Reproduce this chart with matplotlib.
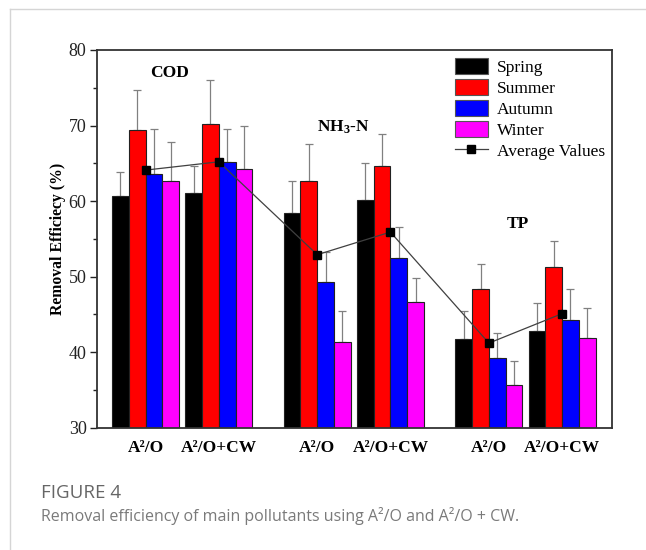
import numpy as np
import matplotlib
matplotlib.use("Agg")
import matplotlib.pyplot as plt
from matplotlib.lines import Line2D
from matplotlib.patches import Patch

# ---------------- data ----------------
seasons = ["Spring", "Summer", "Autumn", "Winter"]
colors = ["#000000", "#ff0000", "#0000ff", "#ff00ff"]
process_labels = ["A²/O", "A²/O+CW", "A²/O", "A²/O+CW", "A²/O", "A²/O+CW"]
pollutants = ["COD", "NH$_3$-N", "TP"]

spring = [60.7, 61.1, 58.4, 60.2, 41.8, 42.8]
summer = [69.4, 70.2, 62.7, 64.6, 48.4, 51.3]
autumn = [63.6, 65.2, 49.3, 52.4, 39.2, 44.3]
winter = [62.6, 64.2, 41.4, 46.7, 35.6, 41.9]

spring_err = [3.2, 3.6, 4.2, 4.8, 3.6, 3.7]
summer_err = [5.3, 5.8, 4.8, 4.3, 3.3, 3.4]
autumn_err = [5.9, 4.3, 3.9, 4.2, 3.3, 4.0]
winter_err = [5.2, 5.8, 4.0, 3.1, 3.2, 3.9]

average_values = [64.1, 65.2, 52.9, 55.9, 41.2, 45.1]

# ---------------- style ----------------
plt.rcParams["font.family"] = ["Liberation Serif", "DejaVu Serif"]
plt.rcParams["mathtext.fontset"] = "custom"
plt.rcParams["mathtext.rm"] = "Liberation Serif:bold"
plt.rcParams["mathtext.bf"] = "Liberation Serif:bold"
plt.rcParams["mathtext.default"] = "bf"

fig = plt.figure(figsize=(6.46, 5.5), dpi=100)
fig.patch.set_facecolor("white")
ax = fig.add_axes([97 / 646, 1 - 427.7 / 550, 515 / 646, 377.7 / 550])

# group layout (bar width = 1)
pair_gap = 4.37
block_gap = 10.25
centers = []
for p in range(3):
    centers.append(p * block_gap)
    centers.append(p * block_gap + pair_gap)
centers = np.array(centers)

series = [spring, summer, autumn, winter]
errs = [spring_err, summer_err, autumn_err, winter_err]
for i, (vals, e, c, lab) in enumerate(zip(series, errs, colors, seasons)):
    x = centers + (i - 1.5)
    ax.bar(x, np.array(vals) - 30, bottom=30, width=1.0, color=c,
           edgecolor="#222222", linewidth=0.8, label=lab, zorder=2)
    ax.errorbar(x, vals, yerr=[np.zeros(len(vals)), e], fmt="none",
                ecolor="#808080", elinewidth=0.9, capsize=2.6,
                capthick=0.9, zorder=1.5)

ax.plot(centers, average_values, color="#404040", linewidth=0.9,
        marker="s", markersize=5.5, markerfacecolor="black",
        markeredgecolor="black", zorder=4)

ax.set_ylim(30, 80)
ax.set_xlim(-2.90, 27.85)
ax.set_yticks([30, 40, 50, 60, 70, 80])
ax.set_yticks([35, 45, 55, 65, 75], minor=True)
ax.set_xticks(centers)
ax.set_xticklabels(process_labels, fontsize=12.5, fontweight="bold")
ax.tick_params(axis="x", length=0, pad=9)
ax.tick_params(axis="y", which="major", direction="out", length=5,
               width=1.0, pad=2.5, labelsize=13, colors="#222222")
ax.tick_params(axis="y", which="minor", direction="out", length=3, width=1.0,
               colors="#222222")
for s in ax.spines.values():
    s.set_linewidth(1.3)
    s.set_color("#333333")

ax.set_ylabel("Removal Efficiecy (%)", fontsize=11.3, fontweight="bold",
              labelpad=2)

ax.text(1.46, 77.0, pollutants[0], fontsize=12.5, fontweight="bold",
        ha="center", va="center")
ax.text(11.79, 69.8, pollutants[1], fontsize=12.5, fontweight="bold",
        ha="center", va="center")
ax.text(22.2, 57.0, pollutants[2], fontsize=12.5, fontweight="bold",
        ha="center", va="center")

handles = [Patch(facecolor=c, edgecolor="#555555", linewidth=0.8)
           for c in colors]
handles.append(Line2D([0], [0], color="#404040", linewidth=0.9, marker="s",
                      markersize=5.5, markerfacecolor="black",
                      markeredgecolor="black"))
labels = seasons + ["Average Values"]
ax.legend(handles, labels, loc="upper left", bbox_to_anchor=(0.695, 0.978),
          frameon=False, prop={"size": 12.5}, handlelength=1.9,
          handleheight=1.05, handletextpad=0.5, labelspacing=0.17,
          borderpad=0.0, borderaxespad=0.0)

# card border
fig.add_artist(Line2D([10 / 646, 1.0], [1 - 9 / 550, 1 - 9 / 550],
                      color="#d5d5d5", linewidth=1.0,
                      transform=fig.transFigure))
fig.add_artist(Line2D([10 / 646, 10 / 646], [0, 1 - 9 / 550],
                      color="#d5d5d5", linewidth=1.0,
                      transform=fig.transFigure))

# caption
fig.text(41 / 646, 1 - 493 / 550, "FIGURE 4", fontsize=13.5,
         family=["Open Sans", "DejaVu Sans"], color="#666666",
         ha="left", va="center")
fig.text(41 / 646, 1 - 516 / 550,
         "Removal efficiency of main pollutants using A²/O and A²/O + CW.",
         fontsize=11.5, family=["Open Sans", "DejaVu Sans"], color="#7a7a7a",
         ha="left", va="center")

fig.savefig("out.png", dpi=100)
